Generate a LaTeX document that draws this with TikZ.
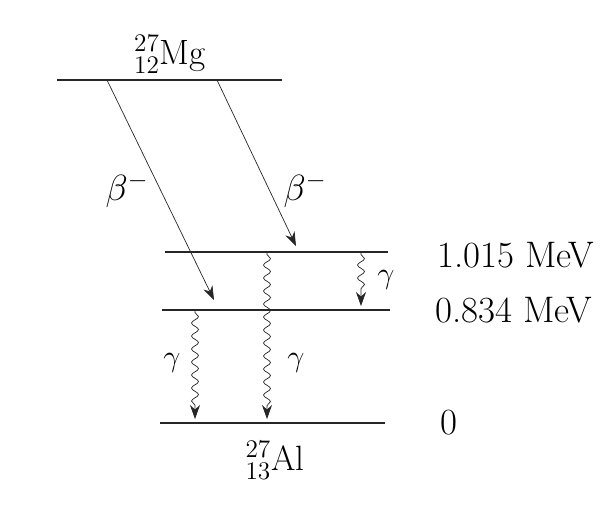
\documentclass[tikz,border=0pt]{standalone}
\usepackage{amsmath,amssymb}
\usetikzlibrary{arrows.meta,decorations.pathmorphing}
\tikzset{
  levelline/.style={black!85, semithick},
  betaarrow/.style={-{Stealth[length=2.8mm,width=2mm]}, black!85, thin},
  gammaarrow/.style={-{Stealth[length=2.8mm,width=2mm]}, black!85, thin,
    decorate, decoration={snake, amplitude=0.7mm, segment length=2.6mm,
    pre length=0.5mm, post length=2.6mm}},
  txt/.style={font=\fontsize{20}{24}\selectfont, inner sep=1pt},
  gtxt/.style={font=\fontsize{17}{20}\selectfont, inner sep=1pt},
  elabel/.style={font=\fontsize{21}{25}\selectfont, inner sep=1pt, anchor=west},
}
\newcommand{\nuc}[3]{${}^{#1}_{#2}$#3}

\begin{document}
\begin{tikzpicture}
    \useasboundingbox (0,0) rectangle (12.2,-10.12);
    % levels
    \draw[levelline] (1.14,-1.6) -- (5.64,-1.6);
    \draw[levelline] (3.3,-5.04) -- (7.76,-5.04);
    \draw[levelline] (3.24,-6.2) -- (7.8,-6.2);
    \draw[levelline] (3.2,-8.46) -- (7.7,-8.46);
    \node[txt] (mg) at (3.4,-1.08) {\nuc{27}{12}{Mg}};
    \node[txt] (al) at (5.5,-9.2) {\nuc{27}{13}{Al}};
    % energies
    \node[elabel] (e1) at (8.7,-5.1) {1.015 MeV};
    \node[elabel] (e2) at (8.66,-6.2) {0.834 MeV};
    \node[elabel] (e0) at (8.76,-8.46) {0};
    % end points on the levels
    \coordinate (b1s) at (2.14,-1.6);
    \coordinate (b1e) at (4.28,-6.0);
    \coordinate (b2s) at (4.34,-1.6);
    \coordinate (b2e) at (5.92,-4.92);
    \coordinate (gas) at (7.22,-5.04);
    \coordinate (gae) at (7.22,-6.12);
    \coordinate (gbs) at (5.34,-5.04);
    \coordinate (gbe) at (5.34,-8.38);
    \coordinate (gcs) at (3.9,-6.2);
    \coordinate (gce) at (3.9,-8.38);
    % beta decays
    \draw[betaarrow] (b1s) -- (b1e);
    \draw[betaarrow] (b2s) -- (b2e);
    \node[txt] (lb1) at (2.54,-3.8) {$\beta^-$};
    \node[txt] (lb2) at (6.1,-3.8) {$\beta^-$};
    % gamma transitions
    \draw[gammaarrow] (gas) -- (gae);
    \draw[gammaarrow] (gbs) -- (gbe);
    \draw[gammaarrow] (gcs) -- (gce);
    \node[gtxt] (lga) at (7.72,-5.6) {$\gamma$};
    \node[gtxt] (lgb) at (5.92,-7.26) {$\gamma$};
    \node[gtxt] (lgc) at (3.44,-7.26) {$\gamma$};
\end{tikzpicture}
\end{document}
